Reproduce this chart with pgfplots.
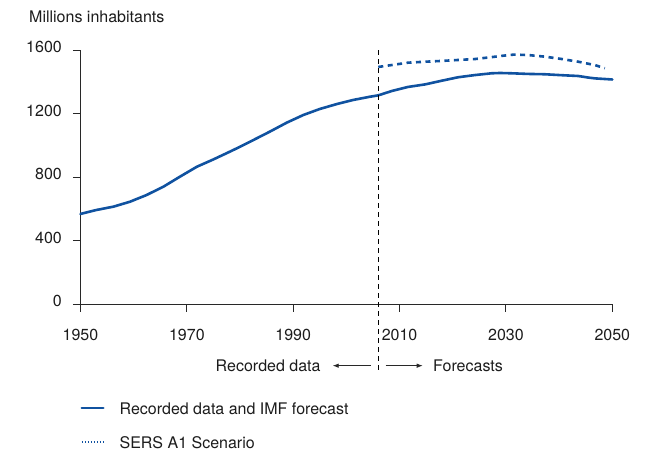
\documentclass[border=0pt]{standalone}
\usepackage{fontspec}
\setmainfont{TeX Gyre Heros}
\usepackage{pgfplots}
\pgfplotsset{compat=1.18}
\usetikzlibrary{arrows.meta}
\definecolor{lineblue}{RGB}{16,82,160}
\definecolor{txt}{RGB}{28,28,28}
\definecolor{axc}{RGB}{40,40,40}

\begin{document}
\fontsize{16}{19}\selectfont
\begin{tikzpicture}
\useasboundingbox (-80.5pt,-147pt) rectangle (570.5pt,304pt);
\begin{axis}[
  scale only axis, width=531.8pt, height=253.7pt,
  xmin=1950, xmax=2050, ymin=0, ymax=1600,
  axis x line*=bottom, axis y line*=left,
  axis line style={axc, line width=0.9pt},
  every tick/.style={axc, line width=0.9pt},
  tick align=outside, major tick length=7.5pt,
  xtick={1950,1970,...,2050}, ytick={0,400,...,1600},
  /pgf/number format/assume math mode=true,
  /pgf/number format/1000 sep={},
  tick label style={font=\fontsize{16}{19}\selectfont, text=txt},
  xticklabel style={anchor=north, inner sep=0pt, yshift=-17pt},
  yticklabel style={anchor=east, inner sep=0pt, xshift=-11pt, yshift=3pt},
  ylabel={Millions inhabitants},
  ylabel style={rotate=-90, at={(axis description cs:0,1)}, anchor=base west, inner sep=0pt, xshift=-51.5pt, yshift=27.9pt, font=\fontsize{16}{19}\selectfont, text=txt},
  clip=false,
  legend cell align=left,
  legend style={at={(axis description cs:0,-0.3875)}, anchor=north west, draw=none, fill=none, inner sep=0pt, outer sep=0pt, row sep=20pt, column sep=15pt, nodes={inner sep=0pt, text=txt}, font=\fontsize{16}{19}\selectfont},
]
\addplot[lineblue, line width=2.6pt, line join=round, line cap=round,
  legend image code/.code={\draw[lineblue, line width=2.6pt] (0pt,1.3pt) -- (21.5pt,1.3pt);}]
coordinates {
(1950,568) (1953,593) (1956.2,614) (1959.3,645) (1962.4,687) (1965.6,740)
(1968.7,803) (1971.9,866) (1975,912) (1978.1,961) (1979.4,982) (1982.5,1034)
(1985.6,1087) (1988.8,1144) (1991.9,1192) (1995,1230) (1998.2,1261)
(2001.3,1287) (2004.4,1307) (2006,1316) (2008.5,1343) (2011.6,1369)
(2014.8,1385) (2017.9,1408) (2021,1430) (2024.2,1444) (2027.3,1455)
(2028.9,1457) (2031.1,1455) (2034.2,1451) (2037.3,1449) (2040.5,1443)
(2043.6,1438) (2045.5,1428) (2046.7,1423) (2050,1416)
};
\addlegendentry{Recorded data and IMF forecast}
\addplot[lineblue, line width=2.6pt, dash pattern=on 5pt off 4.5pt,
  legend image code/.code={\draw[lineblue, line width=2pt, dash pattern=on 1.4pt off 1.6pt] (0pt,1.3pt) -- (21.5pt,1.3pt);}]
coordinates {
(2006,1495) (2008.5,1507) (2011.6,1522) (2014.8,1528) (2017.9,1533)
(2021,1539) (2024.2,1545) (2027.3,1557) (2029.5,1566) (2031.5,1573)
(2034.2,1570) (2037.3,1560) (2040.5,1545) (2043.6,1528) (2046.7,1507)
(2048.6,1487)
};
\addlegendentry{SERS A1 Scenario}
\draw[black, line width=0.9pt, dash pattern=on 5pt off 4pt] (axis cs:2006,1600) -- (axis cs:2006,-422);
\node[anchor=east, inner sep=0pt, text=txt] at (axis cs:1995.17,-389) {Recorded data};
\node[anchor=west, inner sep=0pt, text=txt] at (axis cs:2016.28,-389) {Forecasts};
\draw[line width=0.8pt, axc, -{Latex[length=6pt,width=4.5pt]}] (axis cs:2004.57,-389) -- (axis cs:1997.42,-389);
\draw[line width=0.8pt, axc, -{Latex[length=6pt,width=4.5pt]}] (axis cs:2007.39,-389) -- (axis cs:2014.35,-389);
\end{axis}
\end{tikzpicture}
\end{document}
